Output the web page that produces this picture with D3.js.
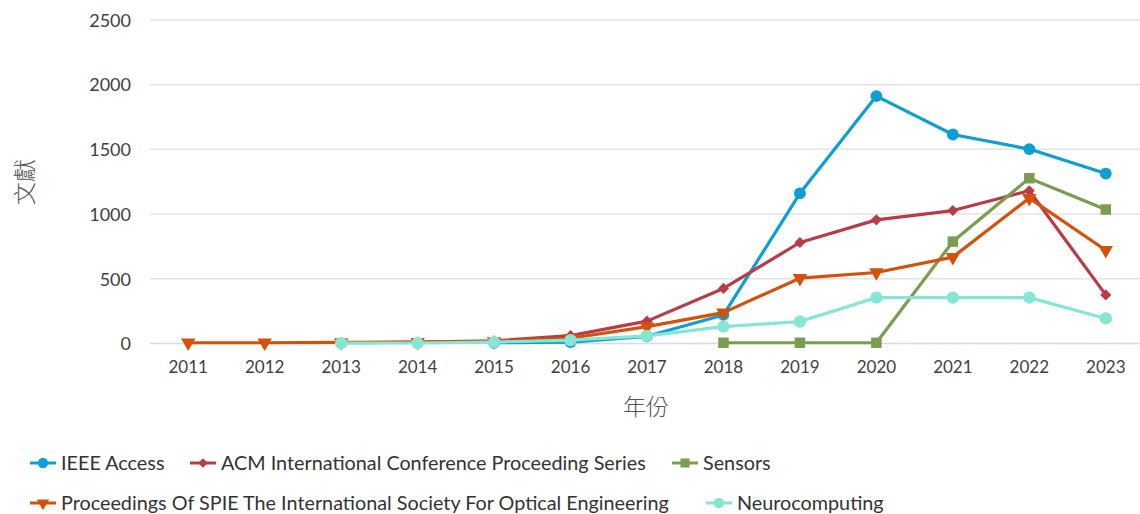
<!DOCTYPE html>
<html><head><meta charset="utf-8">
<script src="https://cdn.jsdelivr.net/npm/d3@7/dist/d3.min.js"></script>
<style>body{margin:0;background:#fff}svg{display:block}</style>
</head><body>
<svg id="chart" width="1140" height="514"></svg>
<script>
const years = ["2011","2012","2013","2014","2015","2016","2017","2018","2019","2020","2021","2022","2023"];
const yTicks = [0,500,1000,1500,2000,2500];
const seriesNames = ["IEEE Access","ACM International Conference Proceeding Series","Sensors","Proceedings Of SPIE The International Society For Optical Engineering","Neurocomputing"];
const ieeeAccess = [null,null,null,null,5,10,55,220,1160,1912,1615,1502,1313];
const acm = [null,null,5,10,20,60,172,425,780,955,1027,1180,375];
const sensors = [null,null,null,null,null,null,null,5,5,5,787,1277,1035];
const spie = [5,5,8,10,15,40,130,238,504,548,667,1123,720];
const neurocomputing = [null,null,2,3,10,25,58,130,169,354,354,354,193];
const colors = ["#0d9ed3","#b83c48","#7a9d50","#d4510c","#85e6d3"];
const symbols = [d3.symbolCircle,d3.symbolSquare,d3.symbolSquare,d3.symbolTriangle,d3.symbolCircle];
const rotations = [0,45,0,180,0];
const series = [ieeeAccess,acm,sensors,spie,neurocomputing];

const svg = d3.select("#chart");
const font = "Lato, 'Open Sans', sans-serif";
const x = d3.scaleBand().domain(years).range([150,1144]);
const y = d3.scaleLinear().domain([0,2500]).range([343.4,20]);
const cx = d => x(d) + x.bandwidth()/2;

// grid
svg.append("g").selectAll("line").data(yTicks).join("line")
  .attr("x1",150).attr("x2",1140).attr("y1",d=>y(d)).attr("y2",d=>y(d))
  .attr("stroke",d=>d===0?"#d6daee":"#e3e3e3").attr("stroke-width",1.5);

// y axis labels
const yAxis = d3.axisLeft(y).tickValues(yTicks).tickSize(0).tickPadding(0).tickFormat(d3.format("d"));
const gy = svg.append("g").attr("transform","translate(131,0)").call(yAxis);
gy.select(".domain").remove();
gy.selectAll("text").attr("font-family",font).attr("font-size",18).attr("fill","#404040").attr("dy","0.35em");

// x axis labels
const xAxis = d3.axisBottom(x).tickSize(0).tickPadding(0);
const gx = svg.append("g").attr("transform","translate(0,361)").call(xAxis);
gx.select(".domain").remove();
gx.selectAll("text").attr("font-family",font).attr("font-size",17).attr("fill","#404040").attr("dy","0.71em");

// titles
svg.append("text").attr("x",646).attr("y",407).attr("text-anchor","middle").attr("dy","0.35em")
  .attr("font-family","'Noto Sans CJK TC', sans-serif").attr("font-weight",300).attr("font-size",23).attr("fill","#555").text("年份");
svg.append("text").attr("transform","translate(25,182) rotate(-90)").attr("text-anchor","middle").attr("dy","0.35em")
  .attr("font-family","'Noto Sans CJK TC', sans-serif").attr("font-weight",300).attr("font-size",23).attr("fill","#555").text("文獻");

// lines
const line = d3.line().defined(d=>d.v!=null).x(d=>cx(d.year)).y(d=>y(d.v));
const symSize = [110,62,110,90,120];
series.forEach((vals,i)=>{
  const pts = years.map((yr,j)=>({year:yr,v:vals[j]}));
  const g = svg.append("g");
  g.append("path").datum(pts).attr("d",line).attr("fill","none").attr("stroke",colors[i]).attr("stroke-width",3.2).attr("stroke-linejoin","round");
  g.selectAll("path.m").data(pts.filter(d=>d.v!=null)).join("path").attr("class","m")
    .attr("d",d3.symbol().type(symbols[i]).size(symSize[i]))
    .attr("transform",d=>`translate(${cx(d.year)},${y(d.v)}) rotate(${rotations[i]})`)
    .attr("fill",colors[i]);
});

// legend
const legendPos = [[30,463],[190,463],[672,463],[30,503],[706,503]];
seriesNames.forEach((name,i)=>{
  const [lx,ly] = legendPos[i];
  const g = svg.append("g").attr("transform",`translate(${lx},${ly})`);
  g.append("line").attr("x1",0).attr("x2",26).attr("y1",0).attr("y2",0).attr("stroke",colors[i]).attr("stroke-width",3);
  g.append("path").attr("d",d3.symbol().type(symbols[i]).size(symSize[i]*0.75)).attr("transform",`translate(13,0) rotate(${rotations[i]})`).attr("fill",colors[i]);
  g.append("text").attr("x",31).attr("y",0).attr("dy","0.35em").attr("font-family",font).attr("font-size",19.8).attr("fill","#333").text(name);
});
</script>
</body></html>
